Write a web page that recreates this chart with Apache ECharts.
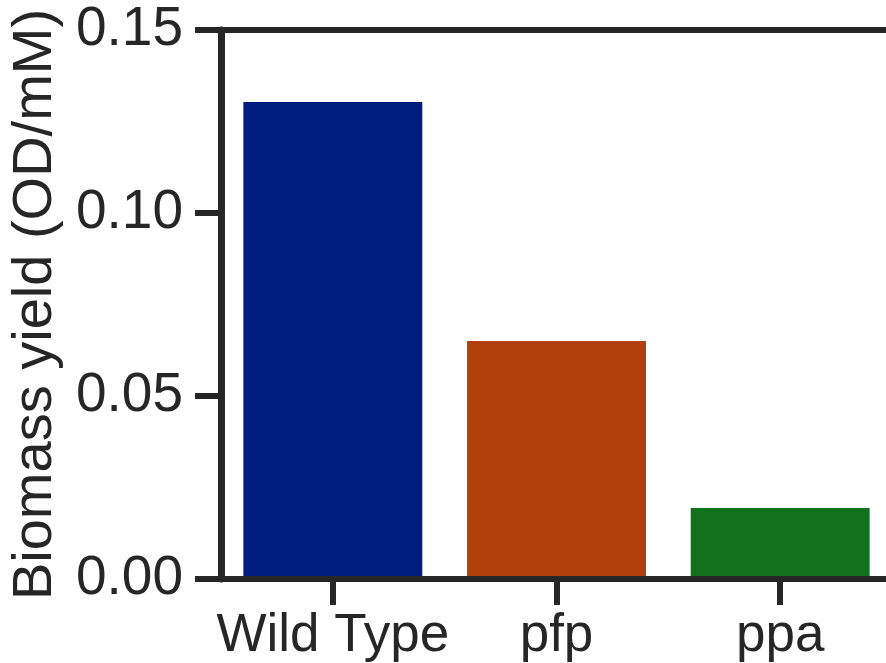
<!DOCTYPE html>
<html>
<head>
<meta charset="utf-8">
<script src="https://cdn.jsdelivr.net/npm/echarts@6/dist/echarts.min.js"></script>
<style>html,body{margin:0;padding:0;background:#fff;overflow:hidden;}#c{width:900px;height:663px;}</style>
</head>
<body>
<div id="c"></div>
<script>
const categories = ['Wild Type', 'pfp', 'ppa'];
const yieldValues = [0.1303, 0.065, 0.0194];
const barColors = ['#001c7f', '#b1400d', '#12711c'];
const yTicks = { min: 0, max: 0.15, interval: 0.05 };
const yAxisTitle = 'Biomass yield (OD/mM)';

const ink = '#262626';
const font = 'Liberation Sans, Arial, sans-serif';
const chart = echarts.init(document.getElementById('c'), null, {renderer: 'canvas'});
chart.setOption({
  animation: false,
  backgroundColor: '#fff',
  grid: { left: 217, top: 30, width: 675, height: 549, containLabel: false },
  xAxis: [{
    type: 'category',
    data: categories,
    position: 'bottom',
    z: 10,
    axisLine: { show: true, lineStyle: { color: ink, width: 6 } },
    axisTick: { show: true, alignWithLabel: true, length: 26, lineStyle: { color: ink, width: 6 } },
    axisLabel: { color: ink, fontSize: 53, fontFamily: font, margin: 31, interval: 0 },
    splitLine: { show: false }
  }, {
    type: 'category',
    data: categories,
    position: 'top',
    z: 10,
    axisLine: { show: true, lineStyle: { color: ink, width: 6 } },
    axisTick: { show: false },
    axisLabel: { show: false },
    splitLine: { show: false }
  }],
  yAxis: {
    type: 'value',
    min: yTicks.min, max: yTicks.max, interval: yTicks.interval,
    z: 10,
    name: yAxisTitle,
    nameLocation: 'middle',
    nameGap: 157,
    nameTextStyle: { color: ink, fontSize: 56, fontFamily: font },
    axisLine: { show: true, lineStyle: { color: ink, width: 7 } },
    axisTick: { show: true, length: 26, lineStyle: { color: ink, width: 6 } },
    axisLabel: { color: ink, fontSize: 55, fontFamily: font, margin: 38,
      formatter: v => v.toFixed(2) },
    splitLine: { show: false }
  },
  series: [{
    type: 'bar',
    barWidth: '80%',
    data: yieldValues.map((v, i) => ({ value: v, itemStyle: { color: barColors[i] } }))
  }]
});
</script>
</body>
</html>
